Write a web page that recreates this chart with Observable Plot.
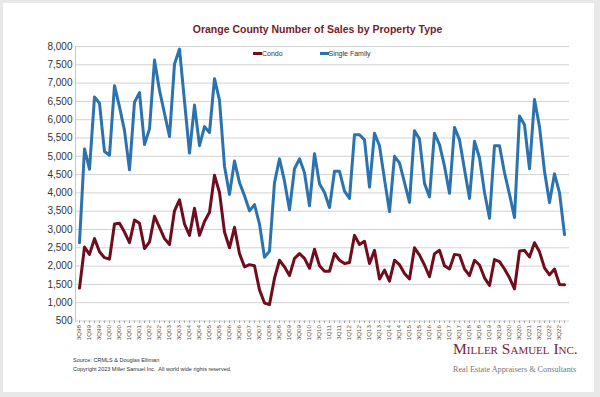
<!DOCTYPE html>
<html><head><meta charset="utf-8">
<script src="https://cdn.jsdelivr.net/npm/d3@7"></script>
<script src="https://cdn.jsdelivr.net/npm/@observablehq/plot@0.6"></script>
<style>
html,body{margin:0;padding:0;background:#e8e8e8;width:600px;height:397px;overflow:hidden;font-family:"Liberation Sans",Arial,sans-serif;}
#card{position:absolute;left:3px;top:3px;width:591px;height:389px;background:#fff;}
#chart{position:absolute;left:0;top:0;}
.abs{position:absolute;white-space:nowrap;}
#title{left:100px;width:435px;top:22.5px;text-align:center;font-size:10.5px;font-weight:bold;color:#7a1b2a;line-height:12px;}
.leg{font-size:7px;color:#333;line-height:8px;}
.sw{position:absolute;width:9px;height:2.5px;}
.foot{font-size:5.5px;color:#333;line-height:7px;left:73px;}
#logo{left:453px;top:340px;font-family:"Liberation Serif","Times New Roman",serif;font-variant:small-caps;font-size:15.5px;color:#7a2430;line-height:18px;}
#tag{left:453px;top:365px;font-family:"Liberation Serif","Times New Roman",serif;font-size:8.2px;color:#777;line-height:10px;}
</style></head>
<body>
<div id="card"></div>
<div id="chart"></div>
<div id="title" class="abs">Orange County Number of Sales by Property Type</div>
<div class="sw" style="left:253px;top:52px;background:#6f0c1d"></div>
<div class="abs leg" style="left:262px;top:49.5px">Condo</div>
<div class="sw" style="left:319.5px;top:52px;background:#2b73ae"></div>
<div class="abs leg" style="left:328.5px;top:49.5px">Single Family</div>
<div class="abs foot" style="top:357px">Source: CRMLS &amp; Douglas Elliman</div>
<div class="abs foot" style="top:366px">Copyright 2023 Miller Samuel Inc.&nbsp; All world wide rights reserved.</div>
<div id="logo" class="abs">Miller Samuel Inc.</div>
<div id="tag" class="abs">Real Estate Appraisers &amp; Consultants</div>
<script>
const quarters = ["3Q98","4Q98","1Q99","2Q99","3Q99","4Q99","1Q00","2Q00","3Q00","4Q00",
"1Q01","2Q01","3Q01","4Q01","1Q02","2Q02","3Q02","4Q02","1Q03","2Q03","3Q03","4Q03",
"1Q04","2Q04","3Q04","4Q04","1Q05","2Q05","3Q05","4Q05","1Q06","2Q06","3Q06","4Q06",
"1Q07","2Q07","3Q07","4Q07","1Q08","2Q08","3Q08","4Q08","1Q09","2Q09","3Q09","4Q09",
"1Q10","2Q10","3Q10","4Q10","1Q11","2Q11","3Q11","4Q11","1Q12","2Q12","3Q12","4Q12",
"1Q13","2Q13","3Q13","4Q13","1Q14","2Q14","3Q14","4Q14","1Q15","2Q15","3Q15","4Q15",
"1Q16","2Q16","3Q16","4Q16","1Q17","2Q17","3Q17","4Q17","1Q18","2Q18","3Q18","4Q18",
"1Q19","2Q19","3Q19","4Q19","1Q20","2Q20","3Q20","4Q20","1Q21","2Q21","3Q21","4Q21",
"1Q22","2Q22","3Q22","4Q22"];
const condo = [1400,2520,2320,2750,2390,2230,2190,3150,3170,2930,
2640,3260,3170,2480,2660,3360,3060,2750,2590,3510,3810,3150,
2840,3580,2840,3220,3470,4480,4010,2930,2500,3060,2340,1980,
2040,2010,1350,990,950,1670,2160,1980,1740,2210,2340,2210,
1940,2460,2010,1860,1860,2340,2160,2070,2100,2840,2590,2680,
2070,2430,1650,1890,1590,2160,2040,1800,1650,2500,2300,2030,
1710,2340,2430,2010,1920,2320,2300,1920,1740,2160,2030,1680,
1470,2180,2120,1920,1680,1380,2410,2430,2250,2640,2390,1950,
1760,1920,1500,1490];
const singleFamily = [2640,5200,4650,6620,6450,5130,5030,6930,6350,5700,
4630,6480,6740,5320,5750,7630,6800,6170,5540,7520,7930,6500,
5090,6400,5290,5810,5650,7120,6530,4730,3960,4870,4280,3920,
3510,3680,3150,2240,2410,4280,4930,4320,3540,4660,4930,4550,
3650,5070,4250,4010,3600,4590,4590,4050,3850,5590,5590,5450,
4160,5630,5290,4370,3490,5000,4820,4280,3740,5700,5470,4260,
3890,5630,5320,4730,3990,5790,5450,4640,3850,5410,4960,4010,
3310,5290,5290,4550,3960,3330,6100,5860,4660,6550,5810,4590,
3740,4520,4010,2860];
const xTickLabels = ["3Q98","1Q99","3Q99","1Q00","3Q00","1Q01","3Q01","1Q02","3Q02","1Q03",
"3Q03","1Q04","3Q04","1Q05","3Q05","1Q06","3Q06","1Q07","3Q07","1Q08","3Q08","1Q09","3Q09",
"1Q10","3Q10","1Q11","3Q11","1Q12","3Q12","1Q13","3Q13","1Q14","3Q14","1Q15","3Q15","1Q16",
"3Q16","1Q17","3Q17","1Q18","3Q18","1Q19","3Q19","1Q20","3Q20","1Q21","3Q21","1Q22","3Q22"];
const yTicks = [500,1000,1500,2000,2500,3000,3500,4000,4500,5000,5500,6000,6500,7000,7500,8000];
const seriesNames = ["Condo","Single Family"];
const seriesColors = ["#6f0c1d","#2b73ae"];

const rows = [];
quarters.forEach((q,i)=>{
  rows.push({q, series:"Condo", v:condo[i]});
  rows.push({q, series:"Single Family", v:singleFamily[i]});
});

const chart = Plot.plot({
  width:600, height:345,
  marginTop:46, marginBottom:24.5, marginLeft:75, marginRight:31,
  x:{type:"point", domain:quarters, padding:0.5, align:0.4, axis:null, label:null},
  y:{domain:[500,8000], axis:null, label:null},
  color:{domain:seriesNames, range:seriesColors},
  style:{fontFamily:"Liberation Sans, Arial, sans-serif", background:"transparent", overflow:"visible"},
  marks:[
    Plot.gridY(yTicks,{stroke:"#d3d3d3", strokeOpacity:1, strokeWidth:1}),
    Plot.frame({anchor:"left", stroke:"#c8c8c8"}),
    Plot.axisY(yTicks,{tickFormat:d3.format(","), tickSize:0, tickPadding:3, fontSize:10, fill:"#333", label:null}),
    Plot.axisX(quarters,{tickFormat:()=>"", tickSize:2.5, stroke:"#aaa", label:null}),
    Plot.axisX(xTickLabels,{tickRotate:-90, tickSize:0, tickPadding:4, fontSize:6.2, fill:"#555", label:null}),
    Plot.lineY(rows,{x:"q", y:"v", stroke:"series", strokeWidth:3})
  ]
});
document.getElementById("chart").appendChild(chart);
</script>
</body></html>
